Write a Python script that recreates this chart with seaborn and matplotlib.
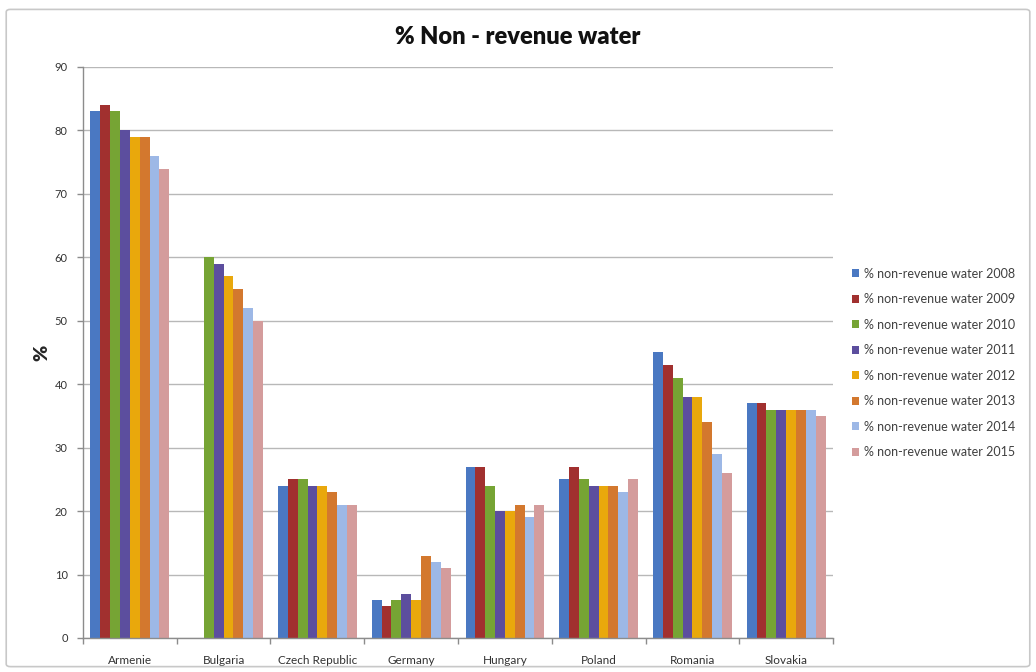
import numpy as np
import pandas as pd
import matplotlib
matplotlib.use("Agg")
import matplotlib.pyplot as plt
from matplotlib.patches import FancyBboxPatch
import seaborn as sns

countries = ["Armenie", "Bulgaria", "Czech Republic", "Germany",
             "Hungary", "Poland", "Romania", "Slovakia"]
years = [2008, 2009, 2010, 2011, 2012, 2013, 2014, 2015]

nrw_2008 = [83, np.nan, 24, 6, 27, 25, 45, 37]
nrw_2009 = [84, np.nan, 25, 5, 27, 27, 43, 37]
nrw_2010 = [83, 60, 25, 6, 24, 25, 41, 36]
nrw_2011 = [80, 59, 24, 7, 20, 24, 38, 36]
nrw_2012 = [79, 57, 24, 6, 20, 24, 38, 36]
nrw_2013 = [79, 55, 23, 13, 21, 24, 34, 36]
nrw_2014 = [76, 52, 21, 12, 19, 23, 29, 36]
nrw_2015 = [74, 50, 21, 11, 21, 25, 26, 35]

series = [nrw_2008, nrw_2009, nrw_2010, nrw_2011,
          nrw_2012, nrw_2013, nrw_2014, nrw_2015]
labels = [f"% non-revenue water {y}" for y in years]
colors = ["#4A78C2", "#A1302F", "#76A434", "#5C4E9E",
          "#E9A80C", "#D3782E", "#9DB8E6", "#D49C9C"]

rows = []
for lab, vals in zip(labels, series):
    for c, v in zip(countries, vals):
        rows.append({"country": c, "series": lab, "value": v})
df = pd.DataFrame(rows)

sns.set_theme(style="white")
plt.rcParams["font.family"] = ["Lato", "DejaVu Sans"]

fig = plt.figure(figsize=(10.36, 6.72), dpi=100)
ax = fig.add_axes([0.0801, 0.0506, 0.7240, 0.8497])

sns.barplot(data=df, x="country", y="value", hue="series",
            order=countries, hue_order=labels, palette=colors,
            width=0.84, gap=0, saturation=1, errorbar=None,
            linewidth=0, ax=ax)

ax.set_ylim(0, 90)
ax.set_xlim(-0.5, len(countries) - 0.5)
ax.set_yticks(np.arange(0, 91, 10))
ax.yaxis.grid(True, color="#B8B8B8", linewidth=1.0)
ax.set_axisbelow(True)
ax.set_xlabel("")
ax.set_ylabel("%", fontsize=14, fontweight="heavy", rotation=90, labelpad=3)

for side in ["top", "right"]:
    ax.spines[side].set_visible(False)
for side in ["left", "bottom"]:
    ax.spines[side].set_color("#8C8C8C")
    ax.spines[side].set_linewidth(1.0)

ax.tick_params(axis="y", which="major", left=True, length=4, width=1,
               color="#8C8C8C", labelsize=8, labelcolor="#333333", pad=7)
ax.tick_params(axis="x", which="major", bottom=False, labelsize=8.5,
               labelcolor="#333333", pad=6)
ax.set_xticks(np.arange(-0.5, len(countries), 1.0), minor=True)
ax.tick_params(axis="x", which="minor", bottom=True, length=4, width=1,
               color="#8C8C8C")

handles, hlabels = ax.get_legend_handles_labels()
ax.legend(handles, hlabels, loc="center left", bbox_to_anchor=(1.01, 0.482),
          frameon=False, fontsize=9, handlelength=0.6, handleheight=0.6,
          handletextpad=0.4, labelspacing=1.08, labelcolor="#404040")

fig.text(0.5, 0.945, "% Non - revenue water", ha="center", va="center",
         fontsize=17, fontweight="heavy", color="#111111")

border = FancyBboxPatch((0.006, 0.008), 0.988, 0.978,
                        boxstyle="round,pad=0,rounding_size=0.004",
                        transform=fig.transFigure, fill=False,
                        edgecolor="#C8C8C8", linewidth=1.2)
fig.patches.append(border)

fig.savefig("out.png", dpi=100)
